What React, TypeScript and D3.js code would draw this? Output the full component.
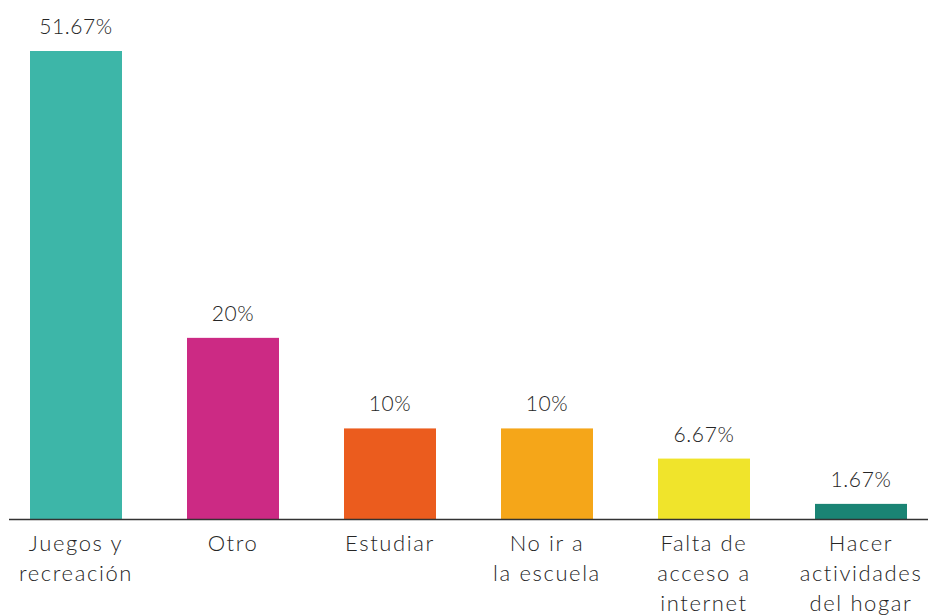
import React from "react";
import * as d3 from "d3";

const categories = [
  ["Juegos y", "recreación"],
  ["Otro"],
  ["Estudiar"],
  ["No ir a", "la escuela"],
  ["Falta de", "acceso a", "internet"],
  ["Hacer", "actividades", "del hogar"],
];
const values = [51.67, 20, 10, 10, 6.67, 1.67];
const valueLabels = ["51.67%", "20%", "10%", "10%", "6.67%", "1.67%"];
const colors = ["#3db6a8", "#cc2a84", "#eb5c1e", "#f5a619", "#f0e42b", "#1a8474"];

const W = 928;
const H = 615;
const baseline = 519;
const FONT = "Lato, 'Noto Sans', sans-serif";

export default function App() {
  const keys = categories.map((c) => c.join(" "));
  const x = d3
    .scaleBand<string>()
    .domain(keys)
    .range([30, 907])
    .paddingInner(65 / 157)
    .paddingOuter(0);
  const y = d3.scaleLinear().domain([0, 51.67]).range([baseline, 51]);

  return (
    <svg
      width={W}
      height={H}
      viewBox={`0 0 ${W} ${H}`}
      style={{ position: "fixed", left: 0, top: 0, background: "#fff" }}
    >
      <g>
        {values.map((v, i) => {
          const bx = x(keys[i])!;
          const bw = x.bandwidth();
          const top = y(v);
          return (
            <g key={keys[i]}>
              <rect x={bx} y={top} width={bw} height={baseline - top} fill={colors[i]} />
              <text
                x={bx + bw / 2}
                y={top - 17}
                textAnchor="middle"
                fontFamily={FONT}
                fontWeight={300}
                fontSize={21}
                letterSpacing={0.6}
                fill="#262626"
              >
                {valueLabels[i]}
              </text>
              <text
                x={bx + bw / 2}
                y={551}
                textAnchor="middle"
                fontFamily={FONT}
                fontWeight={300}
                fontSize={22}
                letterSpacing={1.6}
                fill="#262626"
              >
                {categories[i].map((line, j) => (
                  <tspan key={j} x={bx + bw / 2} dy={j === 0 ? 0 : 30}>
                    {line}
                  </tspan>
                ))}
              </text>
            </g>
          );
        })}
        <line x1={9} x2={W} y1={baseline + 0.5} y2={baseline + 0.5} stroke="#333" strokeWidth={1.5} />
      </g>
    </svg>
  );
}
